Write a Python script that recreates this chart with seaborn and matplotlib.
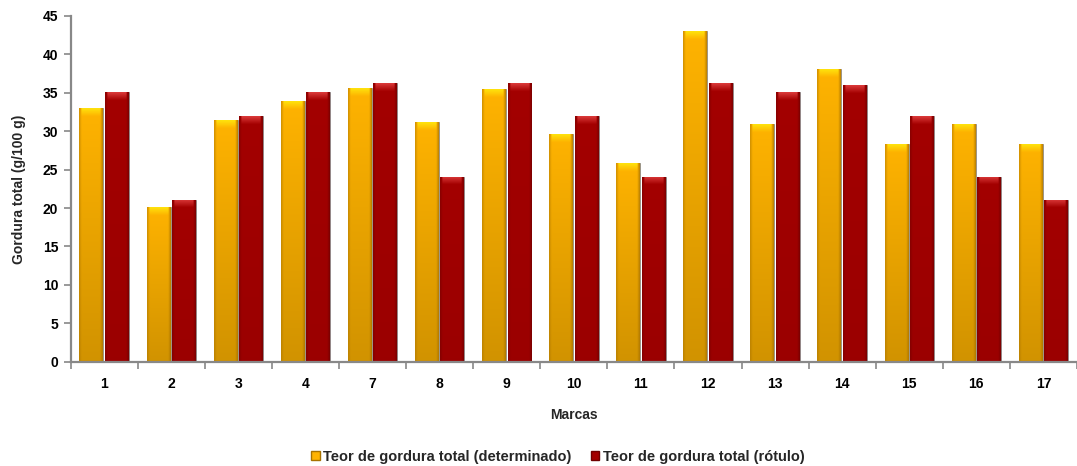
import numpy as np
import pandas as pd
import matplotlib
matplotlib.use("Agg")
import matplotlib.pyplot as plt
import seaborn as sns
from matplotlib.colors import to_rgb
from matplotlib.patches import Patch

marcas = ["1", "2", "3", "4", "7", "8", "9", "10", "11", "12", "13", "14", "15", "16", "17"]
determinado = [33.0, 20.1, 31.4, 33.9, 35.6, 31.2, 35.5, 29.6, 25.8, 43.0, 30.9, 38.1, 28.3, 30.9, 28.3]
rotulo = [35.1, 21.1, 32.0, 35.1, 36.3, 24.1, 36.3, 32.0, 24.1, 36.3, 35.1, 36.0, 32.0, 24.1, 21.1]

serie_det = "Teor de gordura total (determinado)"
serie_rot = "Teor de gordura total (rótulo)"

df = pd.DataFrame({
    "Marcas": marcas * 2,
    "valor": determinado + rotulo,
    "serie": [serie_det] * len(marcas) + [serie_rot] * len(marcas),
})

cores = {serie_det: "#FFB300", serie_rot: "#A30000"}
realce = {serie_det: "#FFEE10", serie_rot: "#E84848"}
escuro = {serie_det: "#A87200", serie_rot: "#700000"}
# how much each series darkens toward the base of the bar
queda = {serie_det: 0.18, serie_rot: 0.05}

sns.set_theme(style="white")
plt.rcParams["font.family"] = ["Liberation Sans", "DejaVu Sans"]
plt.rcParams["font.weight"] = "bold"

fig = plt.figure(figsize=(10.77, 4.66), dpi=100)
ax = fig.add_axes([0.0656, 0.2238, 0.9344, 0.7419])

sns.barplot(data=df, x="Marcas", y="valor", hue="serie", palette=cores,
            width=0.76, gap=0.06, ax=ax, legend=False, saturation=1,
            edgecolor="#8a8a8a", linewidth=0.6)

n = len(marcas)
ax.set_ylim(0, 45)
ax.set_xlim(-0.5, n - 0.5)


def sombrear(patch, serie):
    x0, y0 = patch.get_x(), patch.get_y()
    w, h = patch.get_width(), patch.get_height()
    if h <= 0:
        return
    base = np.array(to_rgb(cores[serie]))
    luz = np.array(to_rgb(realce[serie]))
    sombra = np.array(to_rgb(escuro[serie]))
    nx = 40
    ys = np.arange(0, h, 0.05)
    u = (np.arange(nx) + 0.5) / nx
    # darker rims left and right, strongest on the right edge
    borda = (np.clip(1 - u / 0.12, 0, 1) * 0.55
             + np.clip(1 - (1 - u) / 0.12, 0, 1) * 0.8)
    v = ys / h
    d = queda[serie]
    img = np.zeros((len(ys), nx, 3))
    for c in range(3):
        col = np.repeat((base[c] * ((1 - d) + d * v))[:, None], nx, axis=1)
        col = col * (1 - borda[None, :]) + sombra[c] * borda[None, :]
        img[:, :, c] = col
    # bright cap near the top of each bar
    topo = np.clip(1 - (h - ys) / 1.1, 0, 1)
    cap_mask = ((u > 0.1) & (u < 0.9)).astype(float)
    mix = (topo[:, None] * cap_mask[None, :]) * 0.85
    for c in range(3):
        img[:, :, c] = img[:, :, c] * (1 - mix) + luz[c] * mix
    im = ax.imshow(img, extent=(x0, x0 + w, y0, y0 + h), origin="lower",
                   aspect="auto", interpolation="bilinear",
                   zorder=patch.get_zorder() + 0.1)
    im.set_clip_path(patch)


for i, p in enumerate(ax.patches[: 2 * n]):
    sombrear(p, serie_det if i < n else serie_rot)

ax.set_xlim(-0.5, n - 0.5)
ax.set_ylim(0, 45)

# axes styling
for lado in ["top", "right"]:
    ax.spines[lado].set_visible(False)
for lado in ["left", "bottom"]:
    ax.spines[lado].set_color("#888888")
    ax.spines[lado].set_linewidth(1.6)

ax.set_yticks(np.arange(0, 46, 5))
ax.tick_params(axis="y", which="major", length=5, width=1.2, color="#888888",
               direction="out", left=True, labelsize=10, pad=4)
ax.set_xticks(np.arange(n))
ax.set_xticklabels(marcas)
ax.set_xticks(np.arange(-0.5, n, 1), minor=True)
ax.tick_params(axis="x", which="major", length=0, labelsize=10, pad=11)
ax.tick_params(axis="x", which="minor", length=5, width=1.2, color="#888888",
               direction="out", bottom=True)
for t in ax.get_xticklabels() + ax.get_yticklabels():
    t.set_fontweight("bold")
    t.set_color("black")

ax.set_xlabel("Marcas", fontsize=10, fontweight="bold", labelpad=12)
ax.set_ylabel("Gordura total (g/100 g)", fontsize=10, fontweight="bold", labelpad=12)

handles = [Patch(facecolor=cores[serie_det], edgecolor=escuro[serie_det]),
           Patch(facecolor=cores[serie_rot], edgecolor=escuro[serie_rot])]
fig.legend(handles, [serie_det, serie_rot], loc="center", bbox_to_anchor=(0.518, 0.02),
           ncol=2, frameon=False, handlelength=0.6, handleheight=0.6,
           handletextpad=0.25, columnspacing=1.3,
           prop={"size": 10.5, "weight": "bold"})

fig.savefig("out.png", dpi=100)
